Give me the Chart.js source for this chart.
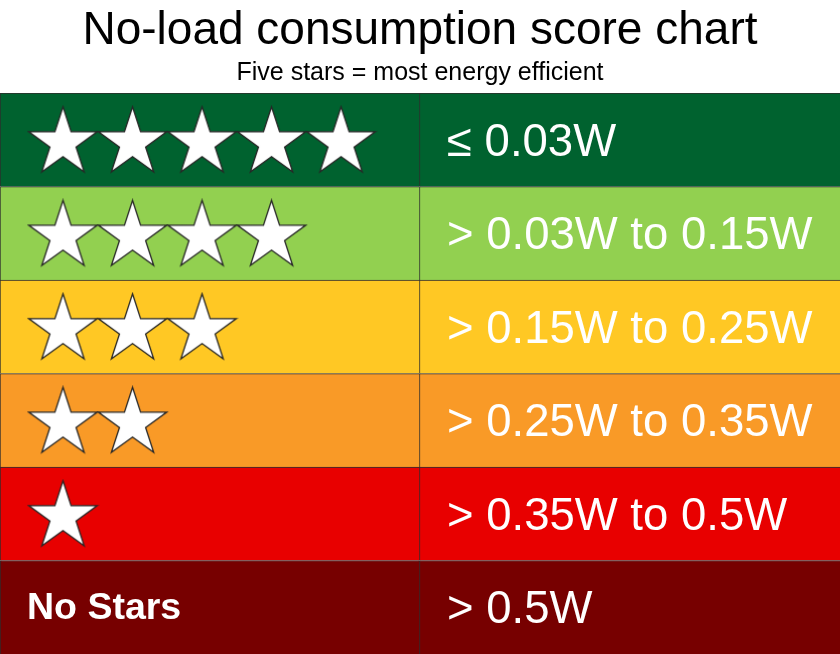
<!DOCTYPE html>
<html>
<head>
<meta charset="utf-8">
<title>No-load consumption score chart</title>
<script src="https://cdn.jsdelivr.net/npm/chart.js@4.4.1/dist/chart.umd.min.js"></script>
<style>
    html, body { margin: 0; padding: 0; background: #ffffff; }
    #wrap { width: 840px; height: 654px; position: relative; }
</style>
</head>
<body>
<div id="wrap"><canvas id="scoreChart"></canvas></div>
<script>
// Score rows, top to bottom
const ratings = ['5 stars', '4 stars', '3 stars', '2 stars', '1 star', 'No stars'];
const starCounts = [5, 4, 3, 2, 1, 0];
const rangeLabels = ['\u2264 0.03W', '> 0.03W to 0.15W', '> 0.15W to 0.25W', '> 0.25W to 0.35W', '> 0.35W to 0.5W', '> 0.5W'];
const rowColors = ['#00622F', '#92D050', '#FFC824', '#F99A27', '#E80000', '#770000'];
const noStarsText = 'No Stars';

// Two columns on a 0..2 scale: stars on the left, wattage on the right
const leftColumn = ratings.map(() => [0, 1]);
const rightColumn = ratings.map(() => [1, 2]);

// Star placement along the x scale (left column)
const starStart = 0.15;
const starStep = 0.1655;

// Build one white star image used as the point style
function makeStar(R) {
    const r = R * 0.382;
    const w = Math.ceil(2 * R * Math.sin(Math.PI * 2 / 5)) + 4;
    const h = Math.ceil(R * (1 + Math.cos(Math.PI / 5))) + 4;
    const c = document.createElement('canvas');
    c.width = w;
    c.height = h;
    const ctx = c.getContext('2d');
    const cx = w / 2;
    const cy = 2 + R;
    ctx.beginPath();
    for (let i = 0; i < 10; i++) {
        const rad = i % 2 === 0 ? R : r;
        const a = -Math.PI / 2 + i * Math.PI / 5;
        const px = cx + rad * Math.cos(a);
        const py = cy + rad * Math.sin(a);
        if (i === 0) ctx.moveTo(px, py); else ctx.lineTo(px, py);
    }
    ctx.closePath();
    ctx.fillStyle = '#ffffff';
    ctx.fill();
    ctx.lineWidth = 1.3;
    ctx.strokeStyle = '#262626';
    ctx.stroke();
    return c;
}
const starImage = makeStar(36);

// one point per star, placed on the row's category label
const starPoints = [];
starCounts.forEach((n, row) => {
    for (let i = 0; i < n; i++) {
        starPoints.push({ x: starStart + i * starStep, y: ratings[row] });
    }
});

// Text in the cells (range labels and the "No Stars" cell)
const cellTextPlugin = {
    id: 'cellText',
    afterDatasetsDraw(chart) {
        const ctx = chart.ctx;
        const xs = chart.scales.x;
        const ys = chart.scales.y;
        ctx.save();
        ctx.fillStyle = '#ffffff';
        ctx.textAlign = 'left';
        ctx.textBaseline = 'alphabetic';
        rangeLabels.forEach((label, i) => {
            const y = ys.getPixelForValue(i);
            ctx.font = '45.5px "Liberation Sans", Arial, sans-serif';
            ctx.fillText(label, xs.getPixelForValue(1) + 27, y + 45 * 0.716 / 2);
            if (starCounts[i] === 0) {
                ctx.font = 'bold 37.5px "Liberation Sans", Arial, sans-serif';
                ctx.fillText(noStarsText, xs.getPixelForValue(0) + 27, y + 12);
            }
        });
        ctx.restore();
    }
};

new Chart(document.getElementById('scoreChart').getContext('2d'), {
    type: 'bar',
    data: {
        labels: ratings,
        datasets: [{
            type: 'scatter',
            label: 'Stars',
            data: starPoints,
            pointStyle: starImage,
            order: 0
        }, {
            label: 'Stars column',
            data: leftColumn,
            backgroundColor: rowColors,
            borderColor: '#2e2e2e',
            borderWidth: { top: 1, right: 1, left: 1, bottom: 0 },
            borderSkipped: false,
            grouped: false,
            categoryPercentage: 1,
            barPercentage: 1,
            order: 1
        }, {
            label: 'Consumption column',
            data: rightColumn,
            backgroundColor: rowColors,
            borderColor: '#2e2e2e',
            borderWidth: { top: 1, right: 0, left: 0, bottom: 0 },
            borderSkipped: false,
            grouped: false,
            categoryPercentage: 1,
            barPercentage: 1,
            order: 1
        }]
    },
    options: {
        indexAxis: 'y',
        responsive: true,
        maintainAspectRatio: false,
        animation: false,
        layout: { padding: 0, autoPadding: false },
        plugins: {
            legend: { display: false },
            tooltip: { enabled: false },
            title: {
                display: true,
                text: 'No-load consumption score chart',
                color: '#000000',
                font: { family: '"Liberation Sans", Arial, sans-serif', size: 46, weight: 'normal', lineHeight: 1.1 },
                padding: { top: 6, bottom: 0 }
            },
            subtitle: {
                display: true,
                text: 'Five stars = most energy efficient',
                color: '#000000',
                font: { family: '"Liberation Sans", Arial, sans-serif', size: 25, weight: 'normal', lineHeight: 1.1 },
                padding: { top: 3, bottom: 6 }
            }
        },
        scales: {
            x: { type: 'linear', min: 0, max: 2, display: false },
            y: { type: 'category', display: false, offset: true }
        }
    },
    plugins: [cellTextPlugin]
});
</script>
</body>
</html>
